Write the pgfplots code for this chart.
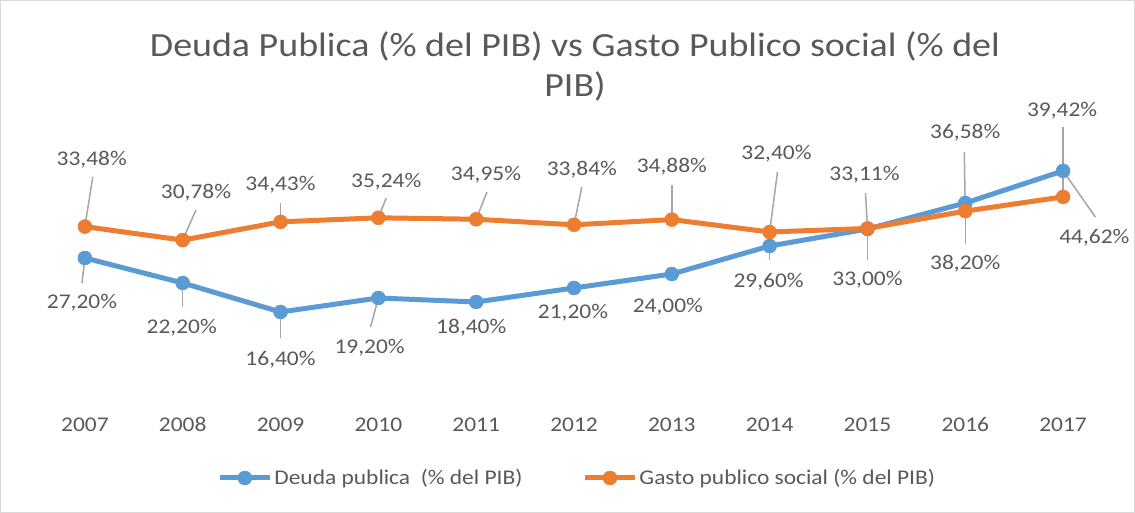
\documentclass[border=0pt]{standalone}
\usepackage{pgfplots}
\pgfplotsset{compat=1.18}
\usepackage{fontspec}
\setmainfont{Carlito}[FakeStretch=1.12]
\definecolor{cblue}{HTML}{5B9BD5}
\definecolor{corange}{HTML}{ED7D31}
\definecolor{ctext}{HTML}{595959}
\definecolor{cleader}{HTML}{A6A6A6}
\definecolor{cborder}{HTML}{D9D9D9}
\newcommand{\lbl}[3]{\node[text=ctext,font=\fontsize{21}{25}\selectfont,inner sep=0pt] at (axis cs:#1,#2) {#3};}
\newcommand{\ldr}[4]{\draw[cleader,line width=1.5bp] (axis cs:#1,#2) -- (axis cs:#3,#4);}
\begin{document}
\begin{tikzpicture}[x=1bp,y=1bp]
\useasboundingbox (0,0) rectangle (1135,513);
\draw[cborder,line width=1bp] (0.5,0.5) rectangle (1134.5,512.5);
\node[text=ctext,font=\fontsize{34}{40}\selectfont,anchor=base] at (575,456) {Deuda Publica (\% del PIB) vs Gasto Publico social (\% del};
\node[text=ctext,font=\fontsize{34}{40}\selectfont,anchor=base] at (575,416) {PIB)};
\begin{axis}[
  at={(36bp,119bp)}, anchor=south west,
  scale only axis, width=1076bp, height=250bp,
  xmin=2006.5, xmax=2017.5, ymin=0, ymax=50,
  clip=false,
  axis line style={draw=none},
  ytick=\empty,
  xtick={2007,2008,2009,2010,2011,2012,2013,2014,2015,2016,2017},
  major tick length=0pt,
  xticklabel style={/pgf/number format/1000 sep=, /pgf/number format/assume math mode=true, text=ctext, font=\fontsize{21}{25}\selectfont, anchor=base, yshift=-38bp},
  legend style={at={(0.503,-0.336)}, anchor=center, draw=none, fill=none, legend columns=2, font=\fontsize{21}{25}\selectfont, text=ctext, /tikz/every even column/.append style={column sep=58bp}, inner sep=0pt},
  legend cell align=left,
  legend image code/.code={\draw[#1] (0bp,0bp) -- (50bp,0bp); \draw[#1,mark repeat=2,mark phase=2] plot coordinates {(0bp,0bp) (25bp,0bp) (50bp,0bp)};},
]
\addplot[cblue, line width=5bp, line join=round, mark=*, mark size=7bp, mark options={solid,line width=0.5bp,fill=cblue}] coordinates {
 (2007,27.20) (2008,22.20) (2009,16.40) (2010,19.20) (2011,18.40) (2012,21.20)
 (2013,24.00) (2014,29.60) (2015,33.00) (2016,38.20) (2017,44.62)};
\addlegendentry{Deuda publica\ \ (\% del PIB)}
\addplot[corange, line width=5bp, line join=round, mark=*, mark size=7bp, mark options={solid,line width=0.5bp,fill=corange}] coordinates {
 (2007,33.48) (2008,30.78) (2009,34.43) (2010,35.24) (2011,34.95) (2012,33.84)
 (2013,34.88) (2014,32.40) (2015,33.11) (2016,36.58) (2017,39.42)};
\addlegendentry{Gasto publico social (\% del PIB)}
% leader lines, orange
\ldr{2007.08}{43.4}{2007}{33.48}
\ldr{2008.135}{36.8}{2008}{30.78}
\ldr{2009}{38.2}{2009}{34.43}
\ldr{2010.08}{39.2}{2010}{35.24}
\ldr{2011.11}{40.4}{2011}{34.95}
\ldr{2012.08}{41.4}{2012}{33.84}
\ldr{2013}{41.8}{2013}{34.88}
\ldr{2014.08}{44.4}{2014}{32.40}
\ldr{2014.98}{40.2}{2015}{33.11}
\ldr{2015.99}{48.4}{2016}{36.58}
\ldr{2017}{53.4}{2017}{39.42}
% leader lines, blue
\ldr{2007}{27.20}{2006.97}{22.2}
\ldr{2008}{22.20}{2008.0}{17.4}
\ldr{2009}{16.40}{2009}{11.2}
\ldr{2010}{19.20}{2009.92}{13.4}
\ldr{2014}{29.60}{2014.0}{26.8}
\ldr{2015}{33.00}{2015}{26.8}
\ldr{2016}{38.20}{2016}{30.0}
\ldr{2017}{44.62}{2017.33}{35.4}
% labels orange
\lbl{2007.07}{46.8}{33,48\%}
\lbl{2008.135}{40.2}{30,78\%}
\lbl{2009.0}{41.8}{34,43\%}
\lbl{2010.08}{42.4}{35,24\%}
\lbl{2011.1}{43.8}{34,95\%}
\lbl{2012.08}{44.8}{33,84\%}
\lbl{2013.0}{45.4}{34,88\%}
\lbl{2014.07}{48.0}{32,40\%}
\lbl{2014.97}{43.8}{33,11\%}
\lbl{2016.0}{52.2}{36,58\%}
\lbl{2016.99}{56.6}{39,42\%}
% labels blue
\lbl{2006.97}{18.2}{27,20\%}
\lbl{2007.99}{13.2}{22,20\%}
\lbl{2009.0}{6.8}{16,40\%}
\lbl{2009.91}{9.2}{19,20\%}
\lbl{2010.95}{13.2}{18,40\%}
\lbl{2011.99}{16.2}{21,20\%}
\lbl{2012.96}{17.4}{24,00\%}
\lbl{2013.99}{22.4}{29,60\%}
\lbl{2015.0}{22.8}{33,00\%}
\lbl{2016.0}{26.0}{38,20\%}
\lbl{2017.32}{31.2}{44,62\%}
\end{axis}
\end{tikzpicture}
\end{document}
